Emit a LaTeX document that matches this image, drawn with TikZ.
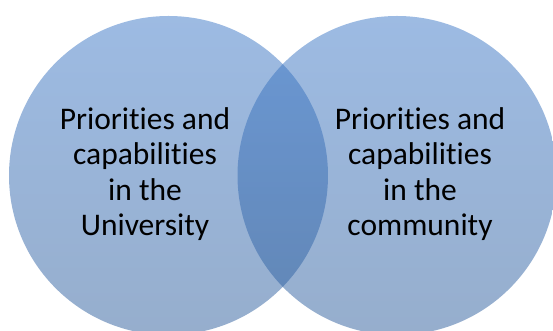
\documentclass[tikz,border=0pt]{standalone}
\usepackage{fontspec}
\setmainfont{Carlito}[Ligatures=NoCommon]
\usepackage{tikz}
\usetikzlibrary{positioning}
\usepackage{xcolor}
\definecolor{setbluetop}   {RGB}{ 59,119,199}
\definecolor{setbluebottom}{RGB}{ 45, 93,155}

\begin{document}
\begin{tikzpicture}[
    x=1pt, y=1pt,
    setcircle/.style={circle, minimum size=319pt, inner sep=0pt, top color=setbluetop, bottom color=setbluebottom, fill opacity=0.5, draw=none},
    settext/.style={align=center, font=\fontsize{31.5}{35.5}\selectfont, text=black}
]
    \useasboundingbox (0,0) rectangle (553,331);
    \clip (0,0) rectangle (553,331);

    % the two overlapping sets
    \node[setcircle] (uni) at (168.5,155.5) {};
    \node[setcircle] (com) at (397,155.5) {};

    % set captions
    \node[settext] (unitext) at ([xshift=-23.5pt,yshift=1.5pt]uni.center) {Priorities and\\capabilities\\in the\\University};
    \node[settext] (comtext) at ([xshift=23pt,yshift=1.5pt]com.center) {Priorities and\\capabilities\\in the\\community};
\end{tikzpicture}
\end{document}
